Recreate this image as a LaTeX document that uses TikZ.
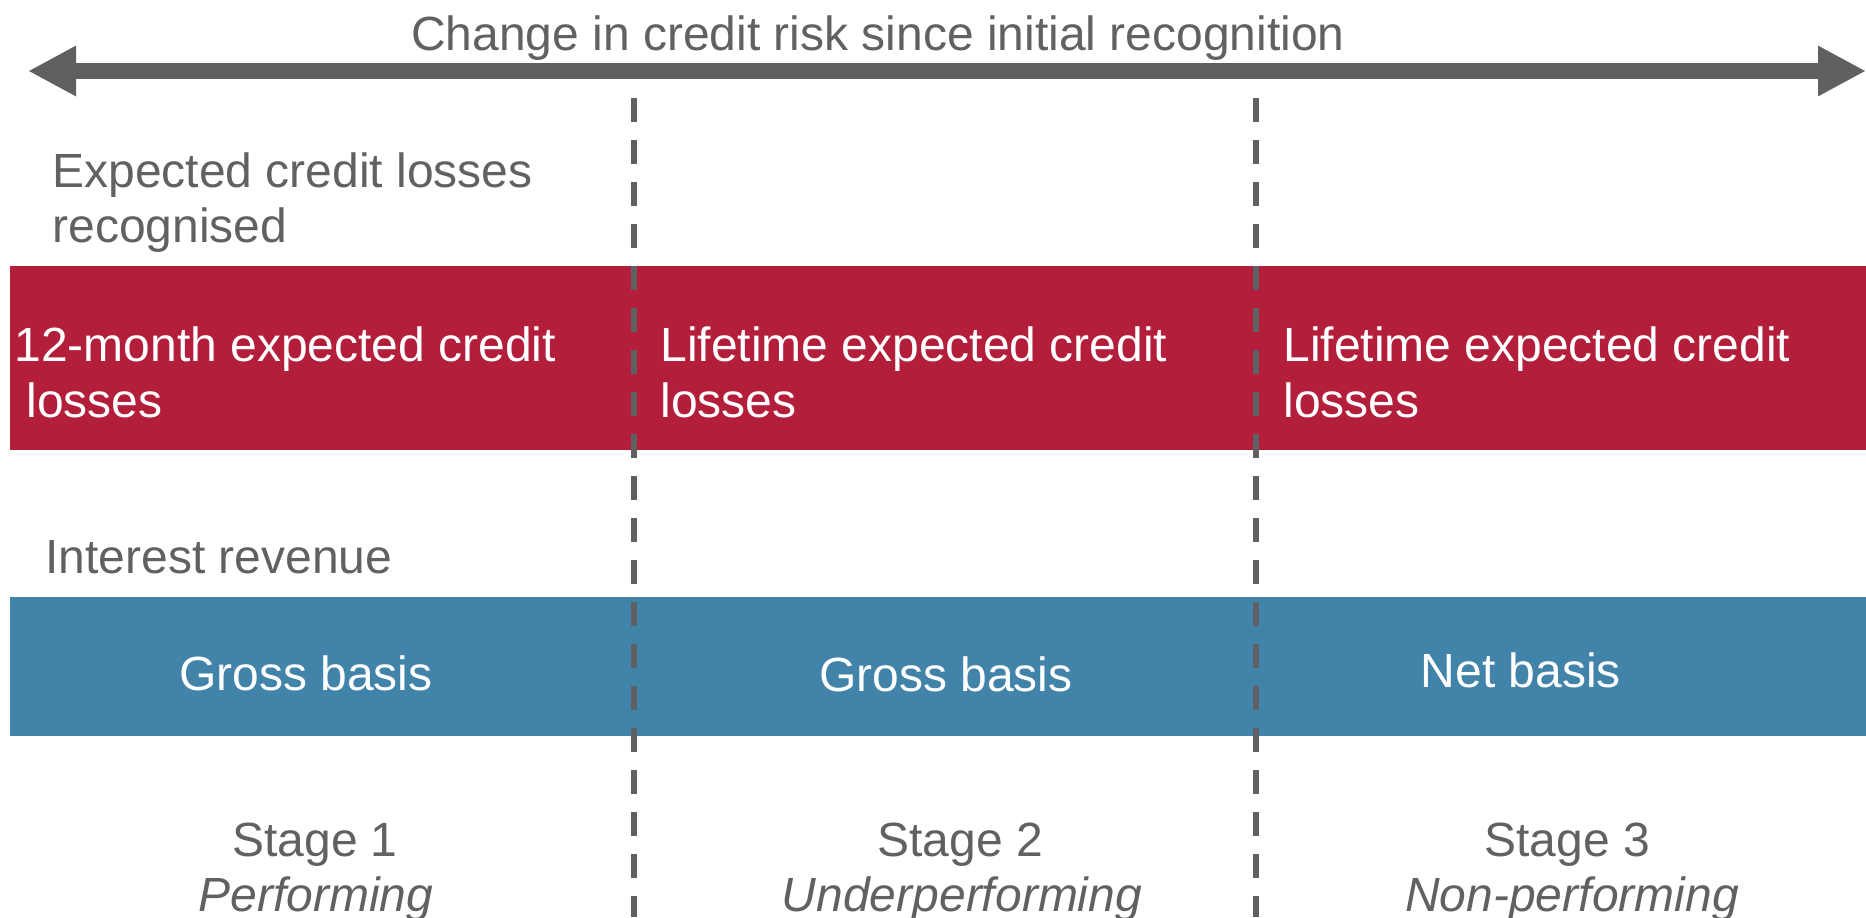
\documentclass[tikz,border=0pt]{standalone}
\usepackage{fontspec}
\setmainfont{Liberation Sans}
\usetikzlibrary{arrows.meta}
\definecolor{txtgray}{HTML}{606163}
\definecolor{linegray}{HTML}{5F6062}
\definecolor{eclred}{HTML}{B31E3B}
\definecolor{revblue}{HTML}{4183A9}
\begin{document}
\begin{tikzpicture}[x=0.5pt,y=-0.5pt,
  lbl/.style={inner sep=0pt, anchor=base west, font=\fontsize{24}{28}\selectfont, text=txtgray},
  wlbl/.style={lbl, text=white},
  clbl/.style={inner sep=0pt, anchor=base, font=\fontsize{24}{28}\selectfont, text=txtgray},
  wclbl/.style={clbl, text=white},
  dashline/.style={draw=linegray, line width=3pt, dash pattern=on 12pt off 9pt},
  bigarrow/.style={draw=linegray, line width=8pt,
    {Triangle[length=24pt,width=23.5pt]}-{Triangle[length=24pt,width=23.5pt]}}
  ]
\useasboundingbox (0,0) rectangle (1866,917);
% main arrow
\coordinate (aL) at (28,71);
\coordinate (aR) at (1866,71);
\draw[bigarrow] (aL) -- (aR);
\node[clbl] (title) at (878,50) {Change in credit risk since initial recognition};
% bands
\fill[eclred] (10,266) rectangle (1866,450);
\fill[revblue] (10,597) rectangle (1866,736);
% dashed separators
\coordinate (d1t) at (634,98);
\coordinate (d1b) at (634,917);
\coordinate (d2t) at (1256,98);
\coordinate (d2b) at (1256,917);
\draw[dashline] (d1t) -- (d1b);
\draw[dashline] (d2t) -- (d2b);
% labels
\node[lbl] (ecl1) at (52,187) {Expected credit losses};
\node[lbl] (ecl2) at (52,242) {recognised};
\node[wlbl] (r1a) at (14,361) {12-month expected credit};
\node[wlbl] (r1b) at (26,417) {losses};
\node[wlbl] (r2a) at (660,361) {Lifetime expected credit};
\node[wlbl] (r2b) at (660,417) {losses};
\node[wlbl] (r3a) at (1283,361) {Lifetime expected credit};
\node[wlbl] (r3b) at (1283,417) {losses};
\node[lbl] (ir) at (45,573) {Interest revenue};
\node[wclbl] (g1) at (306,690) {Gross basis};
\node[wclbl] (g2) at (946,691) {Gross basis};
\node[wclbl] (g3) at (1521,687) {Net basis};
\node[clbl] (s1) at (315,856) {Stage 1};
\node[clbl] (p1) at (316,911) {\itshape Performing};
\node[clbl] (s2) at (960,856) {Stage 2};
\node[clbl] (p2) at (962,911) {\itshape Underperforming};
\node[clbl] (s3) at (1567,856) {Stage 3};
\node[clbl] (p3) at (1572,911) {\itshape Non-performing};
\end{tikzpicture}
\end{document}
